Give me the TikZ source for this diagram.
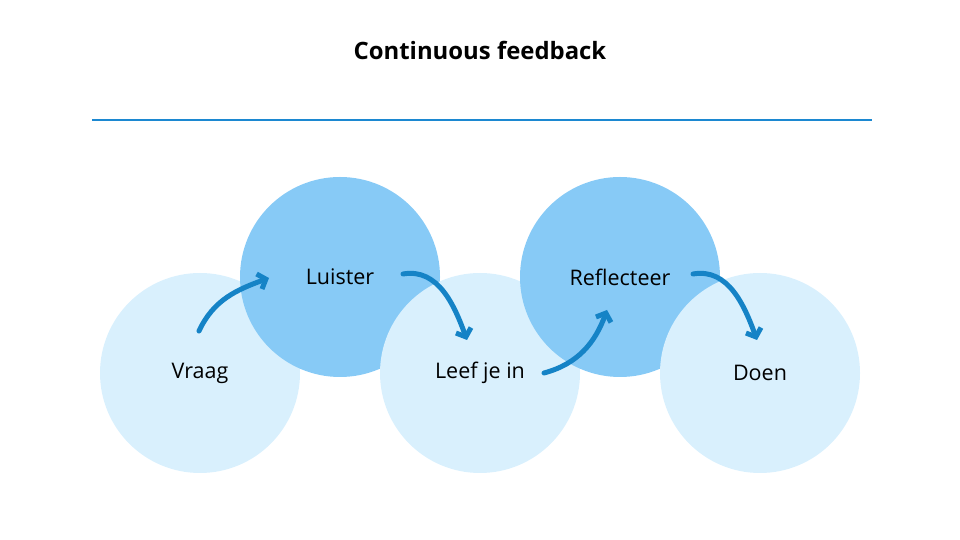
\documentclass[tikz,border=0pt]{standalone}
\usepackage{fontspec}
\setmainfont{Open Sans}
\usepackage{xcolor}
\usetikzlibrary{arrows.meta,positioning,calc}
\definecolor{lightstep}{HTML}{D9F0FD}
\definecolor{darkstep}{HTML}{87CAF6}
\definecolor{arrowblue}{HTML}{1583C6}
\definecolor{ruleblue}{HTML}{1C88D1}
\tikzset{
    % Light circle style
    lowcircle/.style={
        circle, draw=none, fill=lightstep,
        minimum size=200pt, inner sep=0pt,
        font=\fontsize{21.5}{25}\selectfont
    },
    % Dark circle style
    highcircle/.style={
        circle, draw=none, fill=darkstep,
        minimum size=200pt, inner sep=0pt,
        font=\fontsize{21.5}{25}\selectfont
    },
    % Title style
    titletext/.style={
        font=\bfseries\fontsize{23.9}{28}\selectfont
    },
    % Flow arrows
    flowarrow/.style={
        -{Straight Barb[length=7pt,width=16pt,line width=5pt]},
        line width=5pt, line cap=round, color=arrowblue
    }
}

\begin{document}
\begin{tikzpicture}[x=1pt,y=1pt]
\useasboundingbox (0,0) rectangle (960,540);

% Title and rule
\node[titletext] (title) at (480,490) {Continuous feedback};
\coordinate (ruleL) at (92,420);
\coordinate (ruleR) at (872,420);
\draw[ruleblue, line width=1.5pt] (ruleL) -- (ruleR);

% Circles, left to right
\node[lowcircle] (vraag) at (200,167) {Vraag};
\node[highcircle] (luister) at (340,263) {Luister};
\node[lowcircle] (leef) at (480,167) {Leef je in};
\node[highcircle] (reflecteer) at (620,263) {Reflecteer};
\node[lowcircle] (doen) at (760,167) {Doen};

% Add flow arrows
\draw[flowarrow] ($(vraag.center)+(-1,42)$) to[out=65, in=200] ($(luister.center)+(-71,-1)$);
\draw[flowarrow] ($(luister.center)+(63,3)$) to[out=10, in=110] ($(leef.center)+(-13,33)$);
\draw[flowarrow] ($(leef.center)+(64,0)$) to[out=15, in=250] ($(reflecteer.center)+(-13,-33)$);
\draw[flowarrow] ($(reflecteer.center)+(73,3)$) to[out=10, in=110] ($(doen.center)+(-3,33)$);

\end{tikzpicture}
\end{document}
